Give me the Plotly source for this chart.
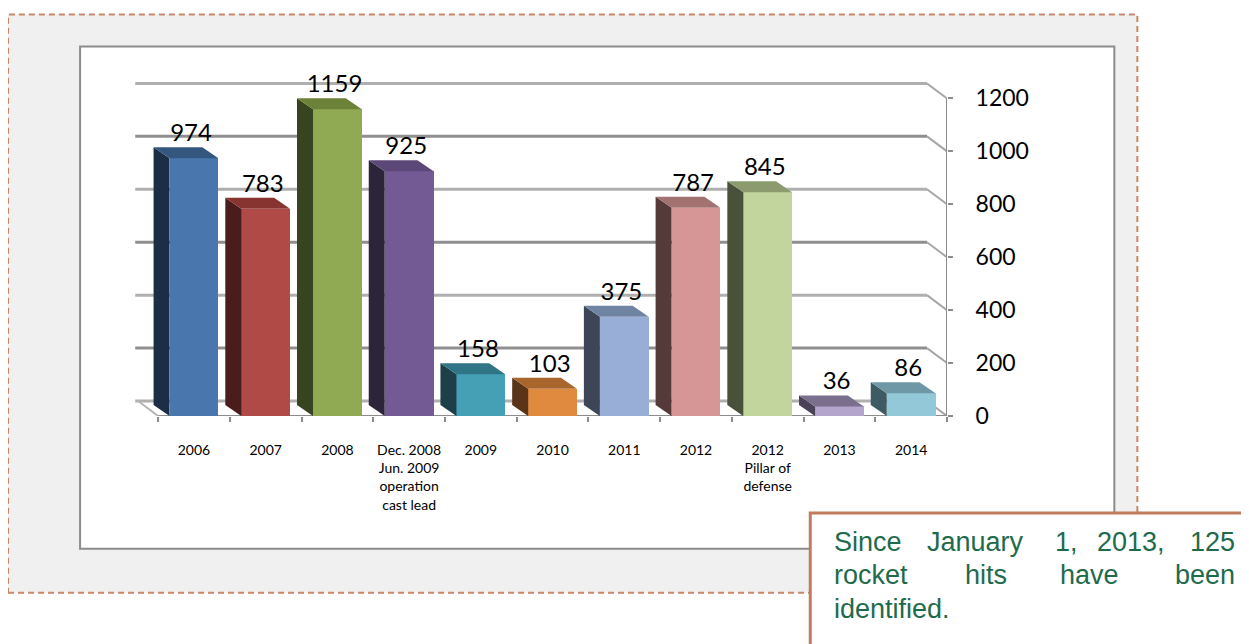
import plotly.graph_objects as go

# ---------------- data ----------------
categories = ["2006", "2007", "2008", "Dec. 2008<br>Jun. 2009<br>operation<br>cast lead",
              "2009", "2010", "2011", "2012", "2012<br>Pillar of<br>defense", "2013", "2014"]
values = [974, 783, 1159, 925, 158, 103, 375, 787, 845, 36, 86]
y_ticks = [0, 200, 400, 600, 800, 1000, 1200]
note_lines = [["Since", "January", "1,", "2013,", "125"],
              ["rocket", "hits", "have", "been"],
              ["identified."]]

# ---------------- styles ----------------
front_colors = ["#4A76AE", "#B04A47", "#8FAA53", "#745A94", "#45A0B5", "#E08A40",
                "#98AED6", "#D69695", "#C1D59C", "#B3A5CC", "#93C8D9"]
side_colors = ["#1C2E46", "#4A1C1B", "#384420", "#2C2439", "#1C3F4A", "#5A3418",
               "#3C4656", "#553A3A", "#4A513A", "#4A4256", "#3E5A63"]
top_colors = ["#34577F", "#87332F", "#6B8238", "#5C4878", "#2F7585", "#A8652C",
              "#6F83A2", "#A27271", "#8B9B6E", "#7B6F8E", "#6E98A6"]

W, H = 1249, 644
OFF = 8         # page offset of the figure (body margin)
XPX = 71.7      # pixels per category
YPX = 0.265     # pixels per value unit
x_lo, x_hi = -0.85, 10.5
y_lo, y_hi = 0, 1330
L = (158 - OFF) - (-0.5 - x_lo) * XPX
plot_w = (x_hi - x_lo) * XPX
R = W - L - plot_w
B = H - (416 - OFF)
plot_h = (y_hi - y_lo) * YPX
T = H - B - plot_h

wall_dx = 20 / XPX
wall_dy = 15 / YPX
bar_dx = 16 / XPX
bar_dy = 11 / YPX
bar_w = 0.68
n = len(values)


def px(xp):
    return (xp - OFF - L) / plot_w


def py(yp):
    return (H - B - (yp - OFF)) / plot_h


fig = go.Figure()

# front faces
fig.add_trace(go.Bar(x=list(range(n)), y=values, width=bar_w,
                     marker=dict(color=front_colors, line=dict(width=0)),
                     hoverinfo="skip", showlegend=False))

# side and top faces
for i, v in enumerate(values):
    xl = i - bar_w / 2
    xr = i + bar_w / 2
    fig.add_trace(go.Scatter(
        x=[xl, xl, xl - bar_dx, xl - bar_dx, xl],
        y=[0, v, v + bar_dy, bar_dy, 0],
        mode="lines", fill="toself", fillcolor=side_colors[i],
        line=dict(width=0), hoverinfo="skip", showlegend=False))
    fig.add_trace(go.Scatter(
        x=[xl, xr, xr - bar_dx, xl - bar_dx, xl],
        y=[v, v, v + bar_dy, v + bar_dy, v],
        mode="lines", fill="toself", fillcolor=top_colors[i],
        line=dict(width=0), hoverinfo="skip", showlegend=False))

# data labels
fig.add_trace(go.Scatter(
    x=[i - 0.04 for i in range(n)], y=[v + bar_dy for v in values],
    text=[str(v) for v in values], mode="text", textposition="top center",
    textfont=dict(family="Lato", size=24, color="#000000"),
    cliponaxis=False, hoverinfo="skip", showlegend=False))

shapes = []
# outer dashed panel
shapes.append(dict(type="rect", xref="paper", yref="paper",
                   x0=px(8), x1=px(1137), y0=py(593), y1=py(14),
                   fillcolor="#F0F0F0", line=dict(color="#C9866A", width=2, dash="6px,4px"),
                   layer="below"))
# inner white chart area
shapes.append(dict(type="rect", xref="paper", yref="paper",
                   x0=px(80), x1=px(1114), y0=py(549), y1=py(46),
                   fillcolor="#FFFFFF", line=dict(color="#8C8C8C", width=2),
                   layer="below"))
# back-wall gridlines bending to the axis
for k, v in enumerate(y_ticks):
    col = "#8F8F8F" if k % 2 == 1 else "#AFAFAF"
    shapes.append(dict(type="path", xref="x", yref="y",
                       path=f"M {-0.5 - wall_dx - 0.04},{v + wall_dy} L {x_hi - wall_dx},{v + wall_dy}",
                       line=dict(color=col, width=3), layer="below"))
    shapes.append(dict(type="path", xref="x", yref="y",
                       path=f"M {x_hi - wall_dx},{v + wall_dy} L {x_hi},{v}",
                       line=dict(color="#A6A6A6", width=2), layer="below"))
# floor edges
shapes.append(dict(type="line", xref="x", yref="y", x0=-0.5, x1=x_hi, y0=0, y1=0,
                   line=dict(color="#8C8C8C", width=2), layer="below"))
shapes.append(dict(type="line", xref="x", yref="y", x0=-0.5, x1=-0.5 - wall_dx, y0=0, y1=wall_dy,
                   line=dict(color="#B5B5B5", width=2), layer="below"))
# value axis line
shapes.append(dict(type="line", xref="x", yref="y", x0=x_hi, x1=x_hi, y0=0, y1=max(y_ticks),
                   line=dict(color="#8C8C8C", width=2), layer="below"))
# note box
shapes.append(dict(type="rect", xref="paper", yref="paper",
                   x0=px(810), x1=px(1270), y0=py(670), y1=py(513),
                   fillcolor="#FFFFFF", line=dict(color="#C27B5D", width=3),
                   layer="above"))

annotations = []
word_x = [[832, 925, 1053, 1095, 1237], [832, 963, 1058, 1237], [832]]
line_y = [542, 575, 609]
for li, words in enumerate(note_lines):
    for wi, w in enumerate(words):
        last = (wi == len(words) - 1) and li < len(note_lines) - 1
        annotations.append(dict(
            xref="paper", yref="paper", x=px(word_x[li][wi]), y=py(line_y[li]),
            text=w, showarrow=False, xanchor="right" if last else "left", yanchor="middle",
            font=dict(family="Liberation Sans, Arial", size=27, color="#1E6B4C")))

fig.update_layout(
    width=W, height=H,
    margin=dict(l=L, r=R, t=T, b=B, pad=0),
    paper_bgcolor="#FFFFFF", plot_bgcolor="rgba(0,0,0,0)",
    shapes=shapes, annotations=annotations,
    showlegend=False, bargap=0,
    xaxis=dict(range=[x_lo, x_hi], tickmode="array", tickvals=list(range(n)), ticktext=categories,
               ticks="", showgrid=False, zeroline=False, showline=False,
               ticklabelstandoff=24,
               tickfont=dict(family="Lato", size=14, color="#000000"),
               minor=dict(tickmode="array", tickvals=[i - 0.5 for i in range(n + 1)],
                          ticks="outside", ticklen=5, tickcolor="#8C8C8C", tickwidth=1.5,
                          showgrid=False)),
    yaxis=dict(range=[y_lo, y_hi], side="right", tickmode="array", tickvals=y_ticks,
               ticks="outside", ticklen=5, tickcolor="#8C8C8C", tickwidth=1.5,
               showgrid=False, zeroline=False, showline=False, ticklabelstandoff=18,
               tickfont=dict(family="Lato", size=23, color="#000000")),
)

fig.write_html("out.html")
